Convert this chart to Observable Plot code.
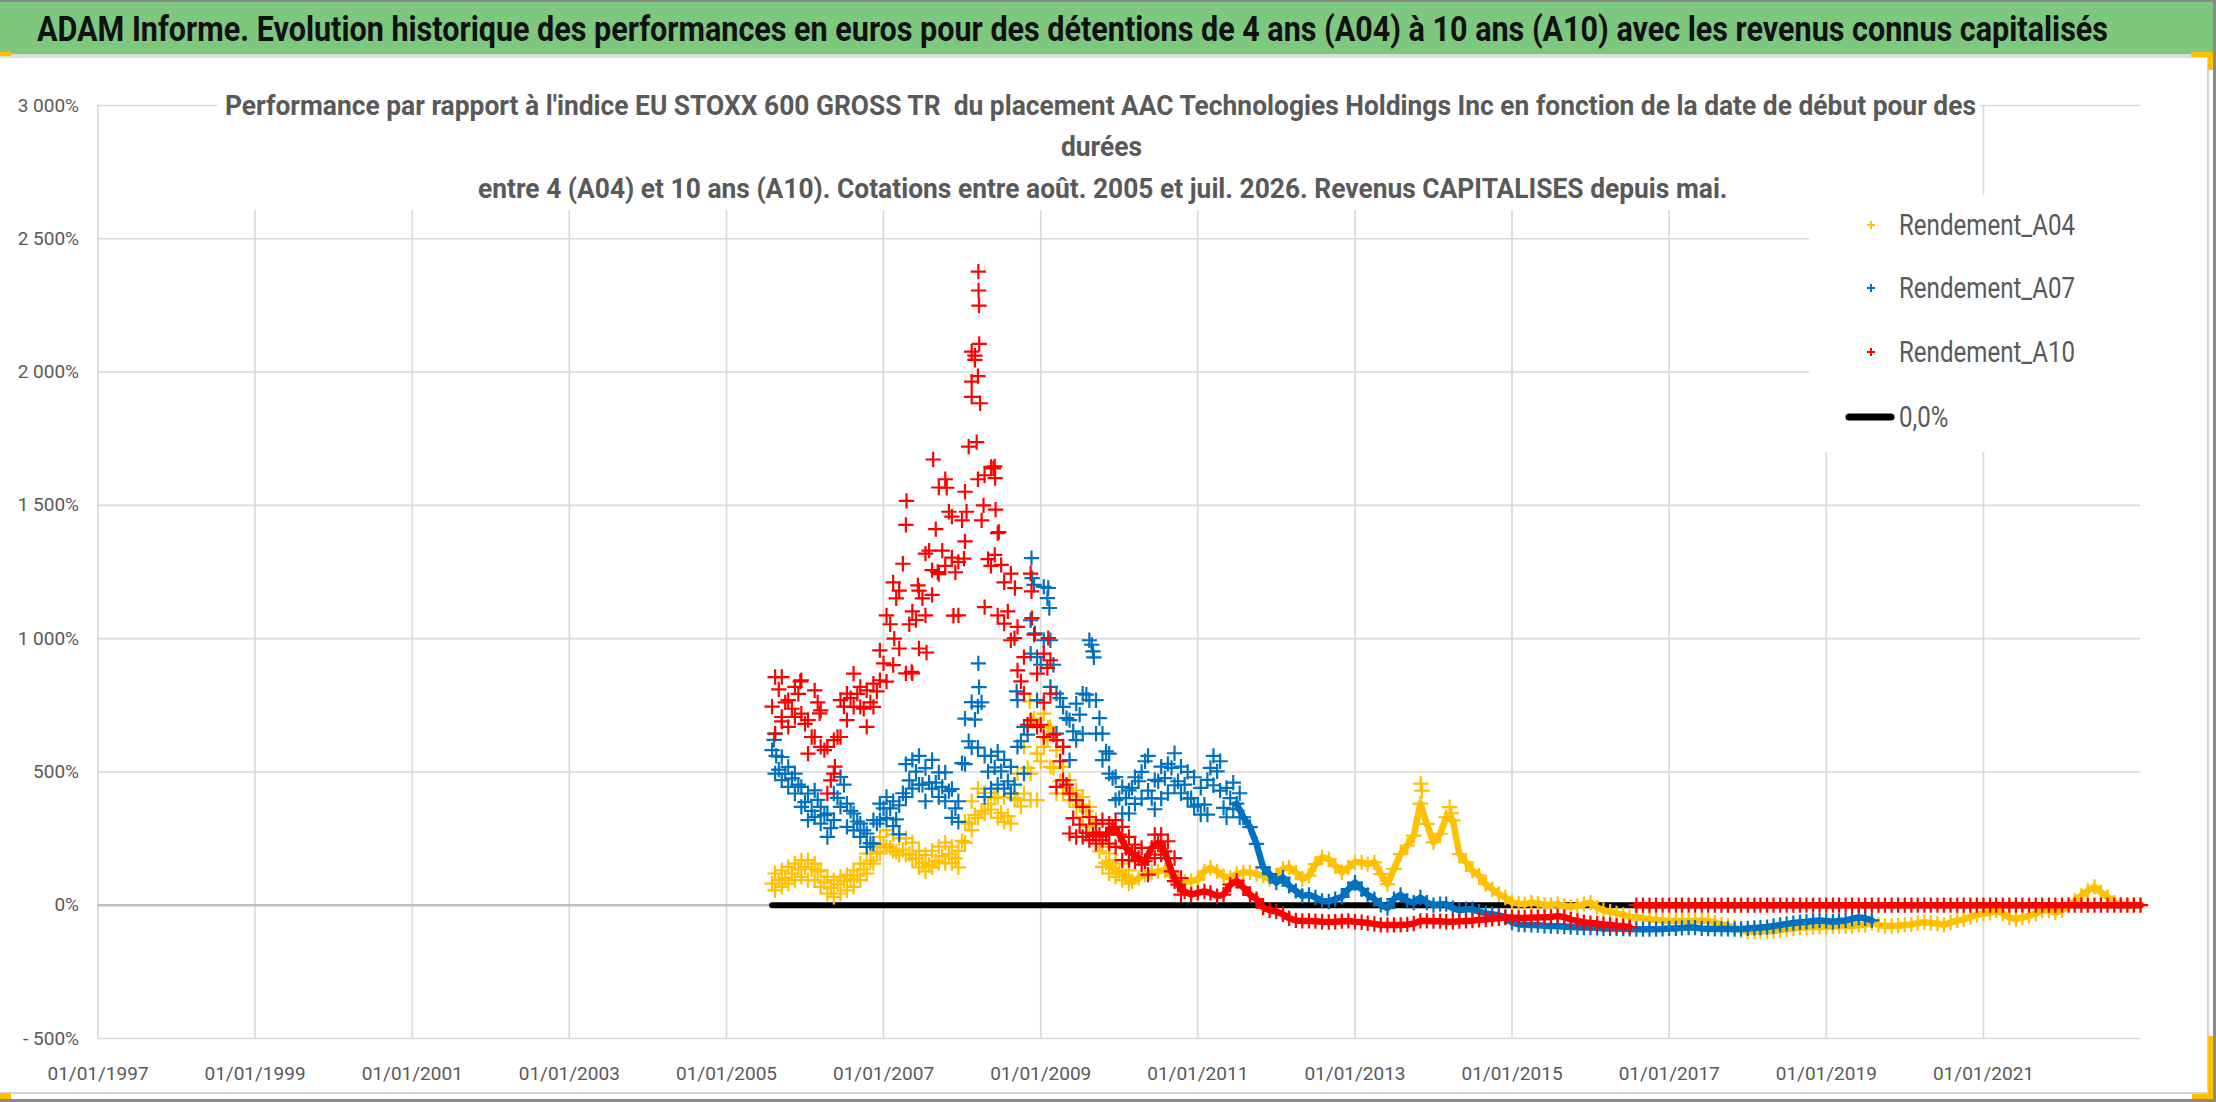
<!DOCTYPE html>
<html>
<head>
<meta charset="utf-8">
<script src="https://cdn.jsdelivr.net/npm/d3@7"></script>
<script src="https://cdn.jsdelivr.net/npm/@observablehq/plot@0.6"></script>
<style>
html,body{margin:0;padding:0;background:#fff;}
#page{position:relative;width:2216px;height:1102px;overflow:hidden;background:#fff;}
.abs{position:absolute;}
</style>
</head>
<body>
<div id="page">
  <div class="abs" id="plot" style="left:0;top:0;"></div>
  <div class="abs" style="left:218px;top:88px;width:1762px;height:122px;background:#fff;"></div>
  <div class="abs" style="left:1809px;top:195px;width:331px;height:257px;background:#fff;"></div>
  <div class="abs" style="left:0;top:0;width:2213px;height:54px;background:#7ec77f;border-top:2px solid #8a8a8a;box-sizing:border-box;"></div>
  <div class="abs" style="left:0;top:54px;width:2213px;height:4px;background:#dcdcdc;"></div>
  <div class="abs" style="left:2207px;top:58px;width:2px;height:1036px;background:#d4d4d4;"></div>
  <div class="abs" style="left:0;top:1092px;width:2209px;height:2px;background:#d4d4d4;"></div>
  <div class="abs" style="left:2213px;top:0;width:3px;height:1102px;background:#8a8a8a;"></div>
  <div class="abs" style="left:0;top:1099px;width:2216px;height:3px;background:#8a8a8a;"></div>
  <div class="abs" style="left:2191px;top:52px;width:22px;height:5px;background:#ffc000;"></div>
  <div class="abs" style="left:2208px;top:52px;width:5px;height:18px;background:#ffc000;"></div>
  <div class="abs" style="left:2208px;top:1036px;width:5px;height:63px;background:#ffc000;"></div>
  <div class="abs" style="left:2192px;top:1094px;width:21px;height:5px;background:#ffc000;"></div>
  <div class="abs" style="left:0;top:1093px;width:11px;height:6px;background:#ffc000;"></div>
  <div class="abs" style="left:0;top:52px;width:11px;height:4px;background:#ffc000;"></div>
</div>
<script>
// ---------- DATA (readings from the picture) ----------
const firstMonth = "2005-08-01";   // monthly readings start (1st of each month)
const firstMid = "2005-08-15";     // mid-month readings start (upper / lower edge of the daily cloud)
const endDate = "2023-01-01";
const a10ZeroFrom = "2016-08-01";  // A10 shown at 0 from here on

const xTickLabels = ["01/01/1997","01/01/1999","01/01/2001","01/01/2003","01/01/2005","01/01/2007","01/01/2009","01/01/2011","01/01/2013","01/01/2015","01/01/2017","01/01/2019","01/01/2021"];
const yTicks = [-500, 0, 500, 1000, 1500, 2000, 2500, 3000];

const seriesNames = ["Rendement_A04", "Rendement_A07", "Rendement_A10", "0,0%"];
const seriesColors = ["#FFC000", "#0070C0", "#FF0000", "#000000"];

// Rendement_A04 (%), Aug 2005 .. Jan 2023
const a04Values = [
  81,94,102,119,135,143,135,127,86,65,78,91,98,111,135,167,200,228,216,200,208,192,176,159,151,167,184,192,176,241,306,338,354,379,403,
  346,334,402,371,515,700,540,627,515,465,440,415,377,352,302,202,159,140,121,109,90,102,115,121,127,130,109,96,88,90,96,127,140,127,109,102,
  117,123,123,117,111,98,111,136,142,123,98,111,154,180,173,148,123,142,161,161,154,161,117,79,136,192,224,261,381,305,236,268,330,318,192,161,129,111,79,60,41,29,10,6,4,10,6,1,1,4,-3,-6,-3,4,10,-9,-19,-24,-31,-36,-44,-46,-49,-53,-55,-57,-59,-59,-59,-59,-59,
  -57,-59,-65,-72,-78,-84,-94,-99,-99,-99,-97,-97,-94,-90,-87,-84,-84,-82,-82,-82,-79,-78,-78,-78,-74,-74,-65,-74,-78,-78,-77,-74,-72,-67,-64,-67,-69,-74,-65,-57,-53,-44,-36,-31,-28,-19,-31,-46,-53,-46,-40,-31,-19,-19,-28,-19,1,16,35,54,69,48,31,10,4,1,1,0
];
const a04MidHigh = [119,131,144,156,169,169,156,131,106,94,106,113,131,156,194,219,256,282,266,251,251,235,204,189,204,220,235,220,204,313,390,437,421,421,406,406,419,494,594,494,569,719,669,581,519,469,431,406,369,319,219,194,169,156,131];
const a04MidLow  = [56,69,81,94,106,94,94,69,44,31,44,56,69,94,119,156,194,220,204,189,189,173,142,127,142,158,158,158,142,235,282,328,344,359,328,313,306,394,419,394,394,594,519,419,419,394,369,331,294,269,144,119,106,94,81];

// Rendement_A07 (%), Aug 2005 .. Jul 2019
const a07Values = [
  582,509,493,476,452,387,354,395,338,289,403,452,354,314,281,233,306,363,363,322,420,468,501,452,460,460,444,428,363,533,615,696,761,501,517,
  502,465,452,615,640,1202,902,1152,902,777,702,652,715,790,952,702,577,477,402,402,440,465,540,402,465,477,515,465,452,402,377,377,515,502,365,402,
  381,330,293,230,142,117,85,104,73,54,35,39,29,16,14,23,31,60,85,60,39,23,1,-11,23,39,16,10,29,10,0,4,4,-11,-19,-15,-15,-24,-31,-34,-38,-44,-65,-72,-73,-74,-75,-77,-78,-79,-80,-82,-83,-84,-84,-85,-87,-87,-87,-88,-89,-90,-90,-90,-90,-89,-87,-87,-85,-84,-84,
  -87,-88,-89,-89,-89,-90,-89,-87,-85,-84,-82,-78,-74,-70,-67,-64,-62,-59,-57,-59,-62,-59,-57,-51,-46,-49,-57
];
const a07MidHigh = [644,556,519,494,444,419,431,369,344,419,481,381,344,306,269,319,381,406,390,375,529,545,560,514,545,498,498,436,390,700,762,746,560,560,576,545,519,769,669,1069,931,1194,994,794,744,694,756,794,994,769,644,569,481,444,431,480,500,560,470,520,530,570,520,500,480,440,470,560,540,440,460,420];
const a07MidLow  = [494,469,444,419,369,319,331,306,256,319,369,294,281,256,219,231,319,328,297,266,406,437,452,390,437,406,390,328,313,529,591,591,406,437,452,437,419,594,494,944,769,994,819,644,594,544,619,644,769,644,544,494,394,344,344,380,400,430,360,400,420,450,420,400,370,340,340,450,430,330,360,330];

// Rendement_A10 (%), Aug 2005 .. Jan 2023 (shown at 0 after Jul 2016)
const a10Values = [
  745,810,761,737,793,680,631,761,582,468,631,745,777,793,737,761,802,907,1054,1151,1281,1054,1070,1151,1330,1411,1330,1476,1249,1444,1720,2046,1444,1298,1314,
  1277,1102,1002,840,677,1015,677,890,640,540,452,327,302,271,265,265,265,290,265,215,196,177,165,215,234,202,127,77,52,40,46,52,46,34,40,77,
  92,67,39,23,-9,-19,-24,-34,-49,-57,-59,-59,-60,-62,-63,-62,-60,-59,-62,-64,-67,-70,-74,-74,-74,-74,-72,-69,-59,-59,-60,-60,-62,-62,-60,-59,-58,-55,-54,-51,-49,-46,-46,-48,-48,-46,-46,-45,-44,-41,-44,-54,-59,-64,-67,-69,-72,-74,-77,-79,-82,
  0,0,0,0,0,0,0,0,0,0,0,0,0,0,0,0,0,0,0,0,0,0,0,0,0,0,0,0,0,0,0,0,0,0,0,0,0,0,0,0,
  0,0,0,0,0,0,0,0,0,0,0,0,0,0,0,0,0,0,0,0,0,0,0,0,0,0,0,0,0,0,0,0,0,0,0,0,0,0
];
const a10MidHigh = [856,856,769,819,844,694,806,731,594,619,769,794,869,819,806,831,956,1087,1211,1180,1427,1102,1180,1319,1257,1567,1598,1458,1288,1551,2077,1985,1613,1644,1396,1211,1244,1044,931,1244,869,944,919,619,594,419,394,369,331,306,319,306,319,294,256,227,215,177,265,265,240,177,102];
const a10MidLow  = [644,706,669,706,719,569,631,594,419,494,631,694,744,744,669,744,844,839,901,963,870,870,963,1087,1164,1242,1273,1304,1087,1365,1907,1598,1118,1273,1087,1056,994,881,794,694,669,631,794,444,469,269,256,256,244,231,244,231,219,169,169,165,152,115,177,190,177,90,40];

// Isolated scattered readings (outliers of the daily clouds)
const a04ExtraDates = ["2008-11-11","2008-11-25","2009-02-05","2013-11-03","2013-11-08","2014-03-17","2014-03-25"];
const a04ExtraValues = [765, 690, 665, 456, 430, 368, 345];
const a07ExtraDates = ["2005-08-10","2005-08-20","2008-03-17","2008-03-20","2008-09-11","2008-11-19","2008-11-22","2008-12-05","2009-02-05","2009-02-10","2009-08-26","2009-09-05"];
const a07ExtraValues = [620, 560, 907, 818, 802, 1302, 1227, 1020, 1190, 1115, 977, 930];
const a10ExtraDates = ["2005-09-15","2005-12-10","2006-03-10","2006-05-20","2007-02-20","2007-04-18","2007-05-12","2007-06-10","2007-07-20","2007-08-20","2007-09-10","2007-10-22","2007-11-22","2008-01-10","2008-01-22","2008-02-15","2008-03-01","2008-03-09","2008-03-17","2008-03-18","2008-03-20","2008-03-21","2008-03-25","2008-04-10","2008-05-26","2008-06-01","2008-06-03","2008-06-05","2008-06-20","2008-09-03","2008-11-19","2008-11-21","2009-02-05","2009-01-15"];
const a10ExtraValues = [690, 840, 720, 520, 1000, 1517, 875, 1200, 948, 1672, 1250, 1566, 1086, 1300, 1476, 1964, 2062, 1737, 2377, 2306, 2249, 2106, 1883, 1500, 1639, 1646, 1602, 1484, 1400, 1190, 1177, 1077, 1002, 760];

const zeroDates = [firstMonth, endDate];
const zeroValues = [0, 0];

// ---------- BUILD ----------
const FONT = "Roboto, 'Open Sans', 'DejaVu Sans', sans-serif";
const parse = d3.utcParse("%Y-%m-%d");
const parseLabel = d3.utcParse("%d/%m/%Y");
const seq = (startStr, vals) => vals.map((v, i) => ({date: d3.utcMonth.offset(parse(startStr), i), value: v}));
const extra = (ds, vs) => ds.map((d, i) => ({date: parse(d), value: vs[i]}));

const a04M = seq(firstMonth, a04Values), a07M = seq(firstMonth, a07Values), a10M = seq(firstMonth, a10Values);
const a04 = [].concat(a04M, seq(firstMid, a04MidHigh), seq(firstMid, a04MidLow), extra(a04ExtraDates, a04ExtraValues));
const a07 = [].concat(a07M, seq(firstMid, a07MidHigh), seq(firstMid, a07MidLow), extra(a07ExtraDates, a07ExtraValues));
const a10 = [].concat(a10M, seq(firstMid, a10MidHigh), seq(firstMid, a10MidLow), extra(a10ExtraDates, a10ExtraValues));
const zero = zeroDates.map((d, i) => ({date: parse(d), value: zeroValues[i]}));
const xTicks = xTickLabels.map(parseLabel);

// the dense daily clouds of the calm stretches read as a continuous ribbon
const cut = parse(a10ZeroFrom);
const ribbon = (rows, from) => rows.filter(d => d.date >= parse(from)).map(d => ({...d, part: d.date >= cut ? "b" : "a"}));
const a04Ribbon = ribbon(a04M, "2009-11-01").map(d => ({...d, part: "a"}));
const a07Ribbon = ribbon(a07M, "2011-07-01").map(d => ({...d, part: "a"}));
const a10Ribbon = ribbon(a10M, "2009-09-01");

const fr = d3.formatLocale({decimal: ",", thousands: "\u00a0", grouping: [3], currency: ["", " €"]});
const fmtInt = fr.format(",d");
const fmtPct = v => v === 0 ? "0%" : (v < 0 ? "- " + fmtInt(-v) + "%" : fmtInt(v) + "%");

const MR = 5, MW = 2.2, RW = 6.5;
const chart = Plot.plot({
  width: 2216,
  height: 1102,
  marginLeft: 97.5,
  marginRight: 76,
  marginTop: 105,
  marginBottom: 64,
  style: {fontFamily: FONT, fontSize: "19px", color: "#595959", background: "transparent"},
  x: {type: "utc", domain: [parseLabel("01/01/1997"), parse(endDate)]},
  y: {domain: [-500, 3000]},
  marks: [
    Plot.ruleY(yTicks.filter(d => d !== 0), {stroke: "#d9d9d9", strokeWidth: 1.6}),
    Plot.ruleX(xTicks, {stroke: "#d9d9d9", strokeWidth: 1.6}),
    Plot.ruleY([0], {stroke: "#bfbfbf", strokeWidth: 2.6}),
    Plot.axisY(yTicks, {tickSize: 0, tickPadding: 19, tickFormat: fmtPct, fontSize: 19, fill: "#595959", label: null}),
    Plot.axisX(xTicks, {tickSize: 0, tickPadding: 28, tickFormat: d3.utcFormat("%d/%m/%Y"), fontSize: 19, fill: "#595959", label: null}),
    Plot.lineY(zero, {x: "date", y: "value", stroke: seriesColors[3], strokeWidth: 6, strokeLinecap: "round"}),
    Plot.line(a04Ribbon, {x: "date", y: "value", z: "part", stroke: seriesColors[0], strokeWidth: RW}),
    Plot.dot(a04, {x: "date", y: "value", symbol: "plus", r: MR, stroke: seriesColors[0], strokeWidth: MW}),
    Plot.line(a07Ribbon, {x: "date", y: "value", z: "part", stroke: seriesColors[1], strokeWidth: RW}),
    Plot.dot(a07, {x: "date", y: "value", symbol: "plus", r: MR, stroke: seriesColors[1], strokeWidth: MW}),
    Plot.line(a10Ribbon, {x: "date", y: "value", z: "part", stroke: seriesColors[2], strokeWidth: RW}),
    Plot.dot(a10, {x: "date", y: "value", symbol: "plus", r: MR, stroke: seriesColors[2], strokeWidth: MW})
  ]
});
document.getElementById("plot").appendChild(chart);

// ---------- TEXT ----------
const page = document.getElementById("page");
function addText(str, o) {
  const el = document.createElement("div");
  el.textContent = str;
  Object.assign(el.style, {
    position: "absolute", whiteSpace: "pre", fontFamily: FONT,
    fontSize: o.size + "px", fontWeight: o.weight || "normal", color: o.color,
    lineHeight: o.size + "px", top: (o.cy - o.size / 2) + "px", left: "0px",
    transformOrigin: "0 50%"
  });
  page.appendChild(el);
  const w = el.getBoundingClientRect().width;
  const k = o.width ? o.width / w : (o.k || 1);
  const left = o.left != null ? o.left : o.cx - w * k / 2;
  el.style.left = left + "px";
  el.style.transform = "scaleX(" + k + ")";
  return k;
}

addText("ADAM Informe. Evolution historique des performances en euros pour des détentions de 4 ans (A04) à 10 ans (A10) avec les revenus connus capitalisés",
  {size: 35, weight: "bold", color: "#111", cx: 1072, cy: 29, width: 2071});

const tk = addText("Performance par rapport à l'indice EU STOXX 600 GROSS TR  du placement AAC Technologies Holdings Inc en fonction de la date de début pour des",
  {size: 27, weight: "bold", color: "#595959", cx: 1100, cy: 106, width: 1751});
addText("durées", {size: 27, weight: "bold", color: "#595959", cx: 1102, cy: 147, k: tk});
addText("entre 4 (A04) et 10 ans (A10). Cotations entre août. 2005 et juil. 2026. Revenus CAPITALISES depuis mai.",
  {size: 27, weight: "bold", color: "#595959", cx: 1103, cy: 189, k: tk});

// legend
const legendY = [225, 288, 352, 417];
const lk = addText(seriesNames[0], {size: 30, color: "#595959", left: 1899, cy: legendY[0], width: 176});
for (let i = 1; i < 4; i++) addText(seriesNames[i], {size: 30, color: "#595959", left: 1899, cy: legendY[i], k: lk});
const ns = "http://www.w3.org/2000/svg";
const lsvg = document.createElementNS(ns, "svg");
lsvg.setAttribute("width", 2216); lsvg.setAttribute("height", 1102);
lsvg.style.position = "absolute"; lsvg.style.left = "0"; lsvg.style.top = "0"; lsvg.style.pointerEvents = "none";
for (let i = 0; i < 3; i++) {
  const p = document.createElementNS(ns, "path");
  const cx = 1871, cy = legendY[i];
  p.setAttribute("d", `M${cx-4},${cy}H${cx+4}M${cx},${cy-4}V${cy+4}`);
  p.setAttribute("stroke", seriesColors[i]); p.setAttribute("stroke-width", 2); p.setAttribute("fill", "none");
  lsvg.appendChild(p);
}
const bl = document.createElementNS(ns, "path");
bl.setAttribute("d", `M1849,${legendY[3]}H1891`);
bl.setAttribute("stroke", "#000"); bl.setAttribute("stroke-width", 7); bl.setAttribute("stroke-linecap", "round");
lsvg.appendChild(bl);
page.appendChild(lsvg);
</script>
</body>
</html>
